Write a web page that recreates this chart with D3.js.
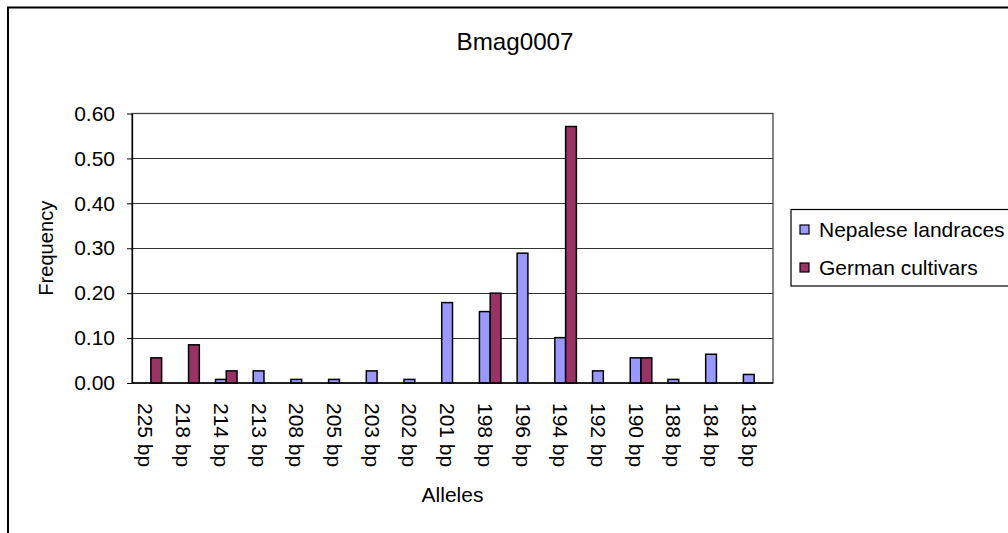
<!DOCTYPE html>
<html>
<head>
<meta charset="utf-8">
<script src="https://cdn.jsdelivr.net/npm/d3@7"></script>
<style>
  html, body { margin: 0; padding: 0; background: #fff; }
  svg { display: block; font-family: "Liberation Sans", Arial, sans-serif; }
</style>
</head>
<body>
<svg id="chart" width="1008" height="533"></svg>
<script>
// Allele frequencies for marker Bmag0007
const categories = ["225 bp", "218 bp", "214 bp", "213 bp", "208 bp", "205 bp", "203 bp", "202 bp",
  "201 bp", "198 bp", "196 bp", "194 bp", "192 bp", "190 bp", "188 bp", "184 bp", "183 bp"];
const seriesNames = ["Nepalese landraces", "German cultivars"];
const nepaleseLandraces = [0, 0, 0.008, 0.027, 0.008, 0.008, 0.027, 0.008,
  0.179, 0.159, 0.289, 0.101, 0.027, 0.056, 0.008, 0.064, 0.019];
const germanCultivars = [0.056, 0.085, 0.027, 0, 0, 0, 0, 0,
  0, 0.2, 0, 0.571, 0, 0.056, 0, 0, 0];
const yTicks = [0, 0.1, 0.2, 0.3, 0.4, 0.5, 0.6];
const seriesColors = ["#9999FF", "#993366"];

const seriesValues = [nepaleseLandraces, germanCultivars];
const rows = categories.map((c, i) => ({
  category: c,
  values: seriesNames.map((s, k) => ({ series: s, value: seriesValues[k][i], k }))
}));

const svg = d3.select("#chart");
const plot = { left: 132, right: 773, top: 113.5, bottom: 383 };

// Chart area border (extends past the visible window on the right and bottom)
svg.append("rect")
  .attr("x", 8).attr("y", 7.5).attr("width", 1030).attr("height", 560)
  .attr("fill", "none").attr("stroke", "#000").attr("stroke-width", 2);

const x = d3.scaleBand().domain(categories).range([plot.left, plot.right]).paddingInner(0).paddingOuter(0);
const xSub = d3.scaleBand().domain(seriesNames).range([0, x.bandwidth()]).paddingInner(0).paddingOuter(0.75);
const y = d3.scaleLinear().domain([0, 0.6]).range([plot.bottom, plot.top]);

// Horizontal gridlines
svg.append("g")
  .selectAll("line")
  .data(yTicks.filter(t => t > 0 && t < 0.6))
  .join("line")
  .attr("x1", plot.left).attr("x2", plot.right)
  .attr("y1", d => Math.round(y(d)) + 0.5).attr("y2", d => Math.round(y(d)) + 0.5)
  .attr("stroke", "#333").attr("stroke-width", 1);

// Plot frame
svg.append("rect")
  .attr("x", plot.left).attr("y", plot.top)
  .attr("width", plot.right - plot.left).attr("height", plot.bottom - plot.top)
  .attr("fill", "none").attr("stroke", "#444").attr("stroke-width", 1.3);

// Bars
svg.append("g")
  .selectAll("g")
  .data(rows)
  .join("g")
  .attr("transform", d => `translate(${x(d.category)},0)`)
  .selectAll("rect")
  .data(d => d.values.filter(v => v.value > 0))
  .join("rect")
  .attr("x", d => xSub(d.series))
  .attr("width", xSub.bandwidth())
  .attr("y", d => y(d.value))
  .attr("height", d => y(0) - y(d.value))
  .attr("fill", d => seriesColors[d.k])
  .attr("stroke", "#000").attr("stroke-width", 1.5);

// Y axis
const yAxis = svg.append("g")
  .attr("transform", `translate(${plot.left},0)`)
  .call(d3.axisLeft(y).tickValues(yTicks).tickFormat(d3.format(".2f")).tickSizeInner(5).tickSizeOuter(0).tickPadding(12));
yAxis.select(".domain").attr("stroke", "#000").attr("stroke-width", 1.3);
yAxis.selectAll(".tick line").attr("stroke", "#000");
yAxis.selectAll(".tick text").attr("font-size", 21).attr("fill", "#000")
  .attr("font-family", "'Liberation Sans', Arial, sans-serif");

// X axis line
svg.append("line")
  .attr("x1", plot.left).attr("x2", plot.right)
  .attr("y1", plot.bottom).attr("y2", plot.bottom)
  .attr("stroke", "#000").attr("stroke-width", 1.5);

// Category labels, rotated to read downward
svg.append("g")
  .selectAll("text")
  .data(categories)
  .join("text")
  .attr("transform", d => `translate(${x(d) + x.bandwidth() / 2 - 5},403) rotate(90)`)
  .attr("dy", "0.35em")
  .attr("text-anchor", "start")
  .attr("font-size", 21)
  .attr("fill", "#000")
  .text(d => d);

// Axis titles
svg.append("text")
  .attr("x", (plot.left + plot.right) / 2).attr("y", 502)
  .attr("text-anchor", "middle").attr("font-size", 21).attr("fill", "#000")
  .text("Alleles");

svg.append("text")
  .attr("transform", `translate(53,${(plot.top + plot.bottom) / 2}) rotate(-90)`)
  .attr("text-anchor", "middle").attr("font-size", 21).attr("fill", "#000")
  .attr("textLength", 95).attr("lengthAdjust", "spacingAndGlyphs")
  .text("Frequency");

// Chart title
svg.append("text")
  .attr("x", 515).attr("y", 50)
  .attr("text-anchor", "middle").attr("font-size", 24).attr("fill", "#000")
  .attr("textLength", 117).attr("lengthAdjust", "spacingAndGlyphs")
  .text("Bmag0007");

// Legend
const legend = svg.append("g");
legend.append("rect")
  .attr("x", 791).attr("y", 209.5).attr("width", 260).attr("height", 76.5)
  .attr("fill", "#fff").attr("stroke", "#000").attr("stroke-width", 1.2);
const items = legend.selectAll("g.item")
  .data(seriesNames)
  .join("g")
  .attr("class", "item")
  .attr("transform", (d, i) => `translate(0,${i * 38})`);
items.append("rect")
  .attr("x", 800).attr("y", 225).attr("width", 9).attr("height", 9)
  .attr("fill", (d, i) => seriesColors[i]).attr("stroke", "#000").attr("stroke-width", 1.2);
items.append("text")
  .attr("x", 819).attr("y", 237)
  .attr("font-size", 21).attr("fill", "#000")
  .text(d => d);
</script>
</body>
</html>
